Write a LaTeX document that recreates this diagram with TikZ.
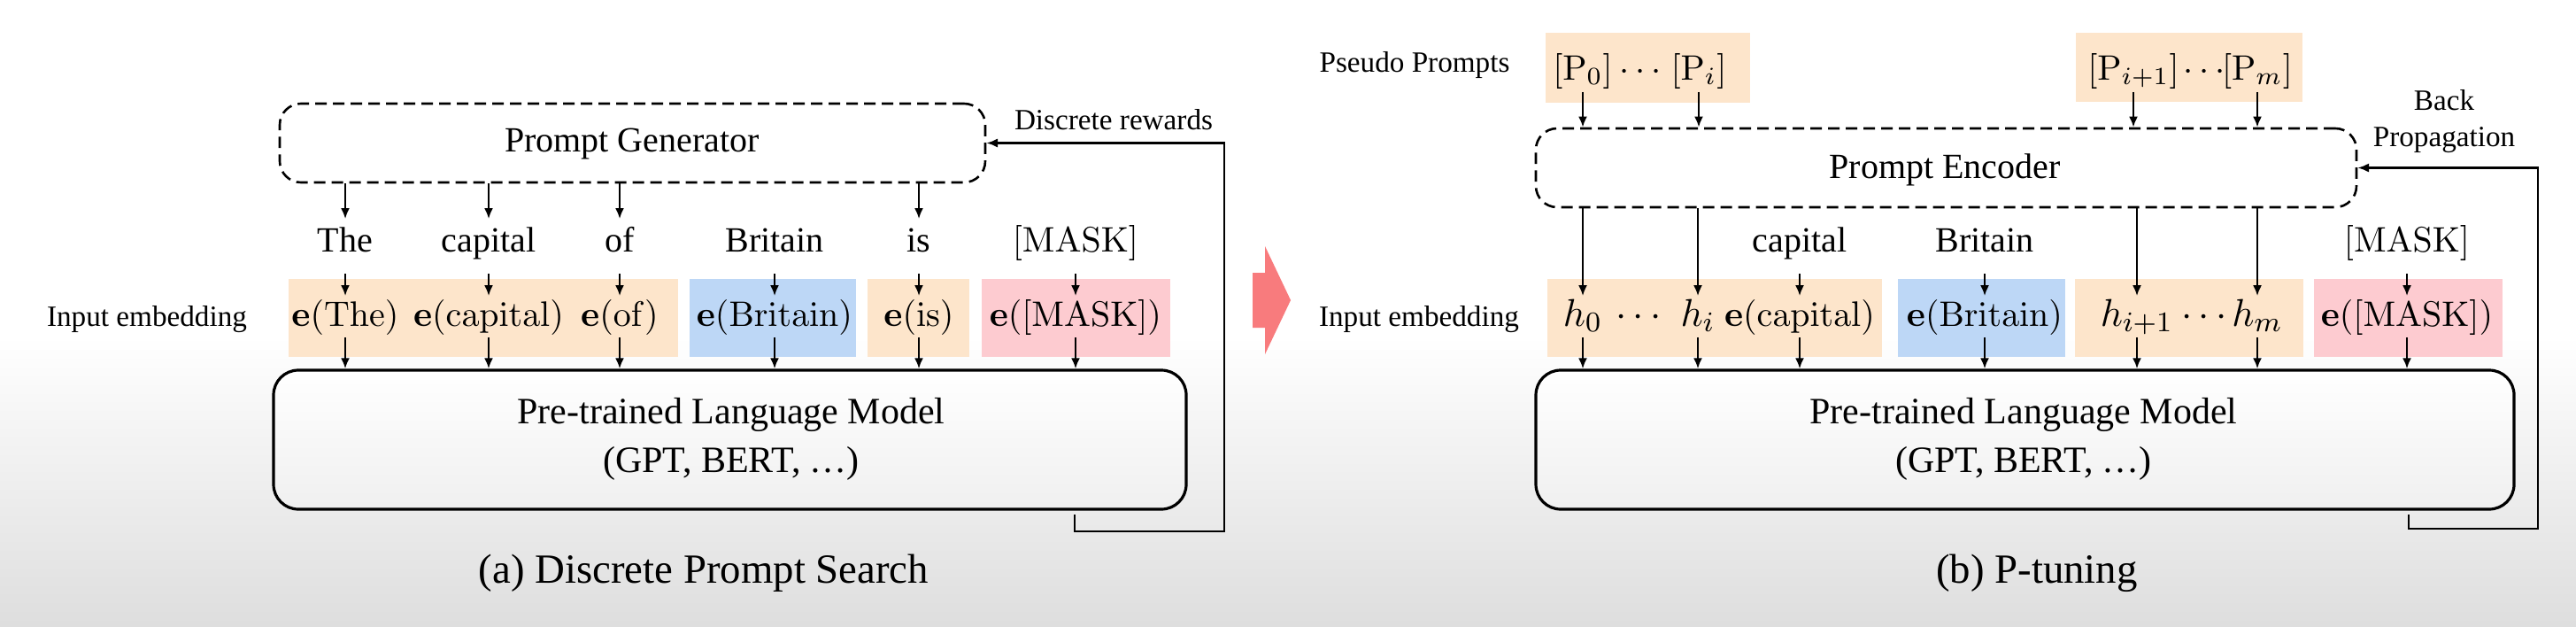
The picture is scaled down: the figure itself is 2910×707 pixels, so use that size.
\documentclass[tikz,border=0pt]{standalone}
\usepackage[no-math]{fontspec}
\setmainfont{Liberation Serif}
\usetikzlibrary{arrows.meta,fit}
\definecolor{cOr}{HTML}{FDE5CB}
\definecolor{cBl}{HTML}{BDD7F6}
\definecolor{cPk}{HTML}{FDCBD0}
\definecolor{cRd}{HTML}{F87B7D}
\begin{document}
\begin{tikzpicture}[x=0.25pt,y=-0.25pt,
  arr/.style={draw=black, line width=0.6pt, -{Latex[length=3pt,width=2.5pt]}},
  fb/.style={draw=black, line width=0.65pt, -{Latex[length=3.2pt,width=2.6pt]}},
  dbox/.style={draw=black, dash pattern=on 3.2pt off 1.8pt, line width=0.65pt, rounded corners=6pt, inner sep=0},
  plmbox/.style={draw=black, line width=0.8pt, rounded corners=7pt, inner sep=0, top color=white, bottom color=black!6},
  cbox/.style={inner sep=0, draw=none},
  small/.style={font=\fontsize{8.3}{10.25}\selectfont, inner sep=0},
  boxtxt/.style={font=\fontsize{10}{12}\selectfont, inner sep=0},
  word/.style={font=\fontsize{10}{12}\selectfont, inner sep=0, inner ysep=2pt, text height=7pt, text depth=4pt, anchor=base},
  emb/.style={font=\fontsize{10}{12}\selectfont, inner sep=0, inner ysep=0.5pt, text height=7.75pt, text depth=2.5pt, anchor=base},
  hemb/.style={font=\fontsize{11}{13}\selectfont, inner sep=0, inner ysep=0.5pt, text height=7.75pt, text depth=2.5pt, anchor=base},
  pp/.style={font=\fontsize{10}{12}\selectfont, inner sep=0, text height=7pt, text depth=3.25pt, anchor=base},
  plmtxt/.style={font=\fontsize{10.5}{13.75}\selectfont, align=center, inner sep=0},
  captxt/.style={font=\fontsize{11.7}{14}\selectfont, inner sep=0}
]
\useasboundingbox (0,0) rectangle (2910,707);
\fill[white] (0,0) rectangle (2910,707);
\shade[top color=white, bottom color=black!13] (0,380) rectangle (2910,707);

% ================= (a) Discrete Prompt Search =================
\node[dbox, fit={(316,117) (1113,206)}] (pg) {};
\node[boxtxt] (pgtxt) at (714,163) {Prompt Generator};

\node[word] (wThe) at (390,284) {The};
\node[word] (wCap) at (552,284) {capital};
\node[word] (wOf) at (700,284) {of};
\node[word] (wBri) at (875,284) {Britain};
\node[word] (wIs) at (1038,284) {is};
\node[word] (wMask) at (1215,284) {$[\mathrm{MASK}]$};

\node[cbox, fill=cOr, fit={(326,315) (766,403)}] (bA1) {};
\node[cbox, fill=cBl, fit={(779,315) (967,403)}] (bA2) {};
\node[cbox, fill=cOr, fit={(980,315) (1095,403)}] (bA3) {};
\node[cbox, fill=cPk, fit={(1109,315) (1322,403)}] (bA4) {};

\node[small] (ieA) at (166,361) {Input embedding};

\node[emb] (eThe) at (390,368) {$\mathbf{e}(\mathrm{The})$};
\node[emb] (eCap) at (552,368) {$\mathbf{e}(\mathrm{capital})$};
\node[emb] (eOf) at (700,368) {$\mathbf{e}(\mathrm{of})$};
\node[emb] (eBri) at (875,368) {$\mathbf{e}(\mathrm{Britain})$};
\node[emb] (eIs) at (1038,368) {$\mathbf{e}(\mathrm{is})$};
\node[emb] (eMask) at (1215,368) {$\mathbf{e}([\mathrm{MASK}])$};

\node[plmbox, fit={(309,418) (1340,575)}] (plmA) {};
\node[plmtxt] (plmAtxt) at (826,496) {Pre-trained Language Model\\(GPT, BERT, \dots)};

\foreach \w in {wThe,wCap,wOf,wIs}
  \draw[arr] (\w.north |- pg.south) -- (\w.north);
\foreach \w/\e in {wThe/eThe,wCap/eCap,wOf/eOf,wBri/eBri,wIs/eIs,wMask/eMask}
  \draw[arr] (\w.south) -- (\w.south |- \e.north);
\foreach \e in {eThe,eCap,eOf,eBri,eIs,eMask}
  \draw[arr] (\e.south) -- (\e.south |- plmA.north);

\coordinate (fbA1) at (1214,600);
\coordinate (fbA2) at (1383,600);
\draw[fb, shorten <=1.2pt] (plmA.south -| fbA1) -- (fbA1) -- (fbA2) |- (pg.east);
\node[small] (drw) at (1258,135) {Discrete rewards};

\node[captxt] (capA) at (795,647) {(a) Discrete Prompt Search};

% ================= big arrow =================
\fill[cRd] (1415,308) -- (1429,308) -- (1429,278) -- (1458,339) -- (1429,400) -- (1429,370) -- (1415,370) -- cycle;

% ================= (b) P-tuning =================
\node[small] (psp) at (1598,74) {Pseudo Prompts};
\node[cbox, fill=cOr, fit={(1746,37) (1977,116)}] (ppb1) {};
\node[cbox, fill=cOr, fit={(2345,37) (2601,115)}] (ppb2) {};
\node[pp] (p0) at (1788,90) {$[\mathrm{P}_0]$};
\node[pp] (pd1) at (1853,90) {$\cdots$};
\node[pp] (pi) at (1919,90) {$[\mathrm{P}_i]$};
\node[pp] (pi1) at (2410,90) {$[\mathrm{P}_{i+1}]$};
\node[pp] (pd2) at (2490,90) {$\cdots$};
\node[pp] (pm) at (2550,90) {$[\mathrm{P}_m]$};

\node[dbox, fit={(1735,145) (2662,234)}] (enc) {};
\node[boxtxt] (enctxt) at (2197,192) {Prompt Encoder};

\node[word] (wCap2) at (2033,284) {capital};
\node[word] (wBri2) at (2242,284) {Britain};
\node[word] (wMask2) at (2719,284) {$[\mathrm{MASK}]$};

\node[cbox, fill=cOr, fit={(1748,315) (2126,403)}] (bB1) {};
\node[cbox, fill=cBl, fit={(2144,315) (2333,403)}] (bB2) {};
\node[cbox, fill=cOr, fit={(2344,315) (2602,403)}] (bB3) {};
\node[cbox, fill=cPk, fit={(2614,315) (2827,403)}] (bB4) {};

\node[small] (ieB) at (1603,361) {Input embedding};

\node[hemb] (h0) at (1788,368) {$h_0$};
\node[hemb] (hd1) at (1851,368) {$\cdots$};
\node[hemb] (hi) at (1918,368) {$h_i$};
\node[emb] (eCap2) at (2033,368) {$\mathbf{e}(\mathrm{capital})$};
\node[emb] (eBri2) at (2242,368) {$\mathbf{e}(\mathrm{Britain})$};
\node[hemb] (hi1) at (2414,368) {$h_{i+1}$};
\node[hemb] (hd2) at (2490,368) {$\cdots$};
\node[hemb] (hm) at (2550,368) {$h_m$};
\node[emb] (eMask2) at (2719,368) {$\mathbf{e}([\mathrm{MASK}])$};

\node[plmbox, fit={(1735,418) (2840,575)}] (plmB) {};
\node[plmtxt] (plmBtxt) at (2286,496) {Pre-trained Language Model\\(GPT, BERT, \dots)};

\foreach \p in {p0,pi,pi1,pm}
  \draw[arr] (\p.south) -- (\p.south |- enc.north);
\foreach \h in {h0,hi,hi1,hm}
  \draw[arr] (\h.north |- enc.south) -- (\h.north);
\foreach \w/\e in {wCap2/eCap2,wBri2/eBri2,wMask2/eMask2}
  \draw[arr] (\w.south) -- (\w.south |- \e.north);
\foreach \e in {h0,hi,eCap2,eBri2,hi1,hm,eMask2}
  \draw[arr] (\e.south) -- (\e.south |- plmB.north);

\coordinate (fbB1) at (2721,597);
\coordinate (fbB2) at (2867,597);
\draw[fb, shorten <=1.2pt] (plmB.south -| fbB1) -- (fbB1) -- (fbB2) |- (enc.east);
\node[small, align=center] (bp) at (2761,137) {Back\\Propagation};

\node[captxt] (capB) at (2301,647) {(b) P-tuning};
\end{tikzpicture}
\end{document}
